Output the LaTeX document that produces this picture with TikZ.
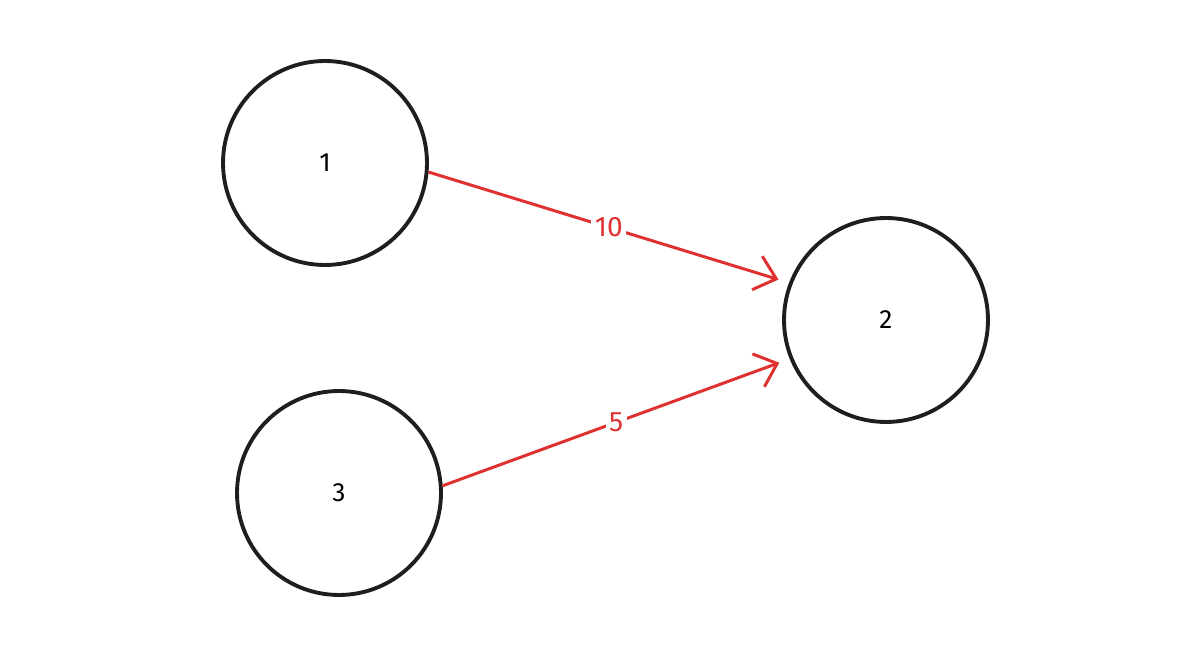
\documentclass[tikz,border=0pt]{standalone}
\usepackage{fontspec}
\setmainfont{Fira Sans}
\usepackage{xcolor}
\usetikzlibrary{arrows.meta, positioning}
\definecolor{exred}{HTML}{E03131}
\definecolor{exink}{HTML}{1E1E1E}

\begin{document}
\begin{tikzpicture}[x=0.02cm, y=-0.02cm,
  vertex/.style={draw=exink, circle, line width=2.2pt, minimum size=4.08cm,
                 inner sep=0pt, font=\fontsize{15}{17}\selectfont},
  edge/.style={draw=exred, line width=1.7pt, -{Straight Barb[length=4mm, width=7mm, line width=1.7pt]},
               shorten >=0.22cm},
  wlabel/.style={fill=white, text=exred, inner sep=2pt, font=\fontsize{16}{18}\selectfont}
]
  \useasboundingbox (0,0) rectangle (1203,671);

  \node[vertex] (n1) at (325, 163) {1};
  \node[vertex] (n2) at (886, 320) {2};
  \node[vertex] (n3) at (339, 493) {3};

  \draw[edge] (n1.-5)  -- (n2.159)  node[midway, wlabel] {10};
  \draw[edge] (n3.4)   -- (n2.-158) node[midway, wlabel] {5};
\end{tikzpicture}
\end{document}
